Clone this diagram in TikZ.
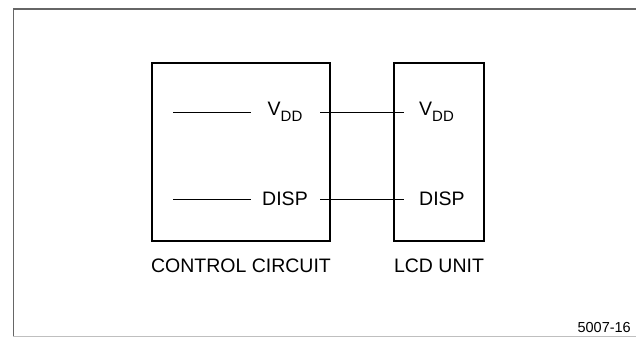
\documentclass[tikz,border=0pt]{standalone}
\usepackage{fontspec}
\setmainfont{Liberation Sans}
\usetikzlibrary{positioning}
\newcommand{\lowsub}[1]{\raisebox{-5.5pt}{\fontsize{15}{17}\selectfont #1}}

\begin{document}
\begin{tikzpicture}[
    x=1pt, y=-1pt,
    font=\fontsize{19.5}{21}\selectfont,
    unit/.style={draw, line width=2pt, minimum height=178pt, inner sep=0pt},
    pin/.style={inner sep=0pt},
    wire/.style={line width=1pt},
    frame/.style={line width=1pt, black!60}
  ]
  \useasboundingbox (0,0) rectangle (636,337);

  % --- frame
  \draw[frame, line width=1.6pt] (13,9) -- (636,9);
  \draw[frame] (13,9) -- (13,337);
  \draw[frame, black!25] (13,336) -- (636,336);

  % --- units
  \node[unit, minimum width=178pt] (cc) at (241,152) {};
  \node[unit, minimum width=90pt] (lcd) at (439,152) {};

  % --- pins
  \node[pin] (vdd1) at (285,112) {V\lowsub{DD}};
  \node[pin] (disp1) at (285,199) {DISP};
  \node[pin, anchor=west] (vdd2) at (419,112) {V\lowsub{DD}};
  \node[pin, anchor=west] (disp2) at (419,199) {DISP};

  % --- wires
  \draw[wire] ([xshift=22pt]cc.west |- vdd1) -- ([xshift=-80pt]cc.east |- vdd1);
  \draw[wire] ([xshift=22pt]cc.west |- disp1) -- ([xshift=-80pt]cc.east |- disp1);
  \draw[wire] ([xshift=-11pt]cc.east |- vdd1) -- ([xshift=11pt]lcd.west |- vdd2);
  \draw[wire] ([xshift=-11pt]cc.east |- disp1) -- ([xshift=11pt]lcd.west |- disp2);

  % --- labels
  \node[below=13.5pt of cc] (cclabel) {CONTROL CIRCUIT};
  \node[below=13.5pt of lcd] (lcdlabel) {LCD UNIT};
  \node[anchor=base east, inner sep=0pt, font=\fontsize{14.5}{16}\selectfont]
    (figno) at (631,332) {5007-16};

\end{tikzpicture}
\end{document}
